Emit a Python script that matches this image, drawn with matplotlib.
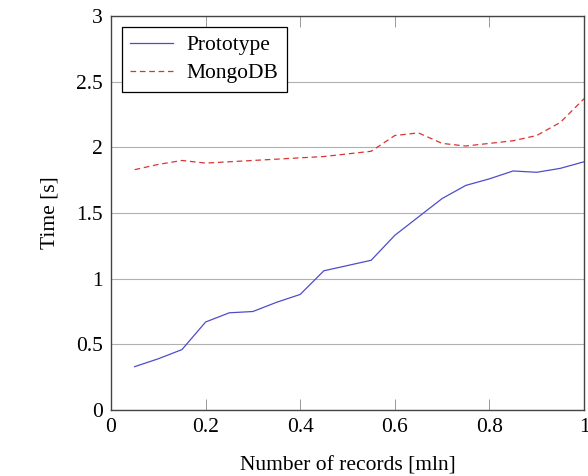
import matplotlib
matplotlib.use("Agg")
import matplotlib.pyplot as plt

records = [0.05, 0.10, 0.15, 0.20, 0.25, 0.30, 0.35, 0.40, 0.45, 0.50,
           0.55, 0.60, 0.65, 0.70, 0.75, 0.80, 0.85, 0.90, 0.95, 1.00]
prototype = [0.33, 0.39, 0.46, 0.67, 0.74, 0.75, 0.82, 0.88, 1.06, 1.10,
             1.14, 1.33, 1.47, 1.61, 1.71, 1.76, 1.82, 1.81, 1.84, 1.89]
mongodb = [1.83, 1.87, 1.90, 1.88, 1.89, 1.90, 1.91, 1.92, 1.93, 1.95,
           1.97, 2.09, 2.11, 2.03, 2.01, 2.03, 2.05, 2.09, 2.19, 2.37]

plt.rcParams['font.family'] = ['Liberation Serif', 'DejaVu Serif']

fig = plt.figure(figsize=(5.88, 4.76), dpi=100)
ax = fig.add_axes([111/588, 1 - 410/476, 473/588, 394/476])

ax.plot(records, prototype, color=(0.3, 0.3, 0.8), lw=0.9, label='Prototype')
ax.plot(records, mongodb, color=(0.85, 0.2, 0.2), lw=0.9, ls=(0, (4.5, 3)), label='MongoDB')

ax.set_xlim(0, 1)
ax.set_ylim(0, 3)
ax.set_xticks([0, 0.2, 0.4, 0.6, 0.8, 1])
ax.set_xticklabels(['0', '0.2', '0.4', '0.6', '0.8', '1'])
ax.set_yticks([0, 0.5, 1, 1.5, 2, 2.5, 3])
ax.set_yticklabels(['0', '0.5', '1', '1.5', '2', '2.5', '3'])
ax.grid(axis='y', color='#b0b0b0', lw=0.8)
ax.tick_params(axis='x', direction='in', top=True, length=8, width=0.6, color='#888888', labelsize=15.5, pad=6)
ax.tick_params(axis='y', length=0, labelsize=15.5, pad=6)
for s in ax.spines.values():
    s.set_color('#444444')
    s.set_linewidth(1.0)

ax.set_xlabel('Number of records [mln]', fontsize=15.5, labelpad=14)
ax.set_ylabel('Time [s]', fontsize=15.5, labelpad=12)

leg = ax.legend(loc='upper left', fontsize=15.5, fancybox=False, framealpha=1,
                edgecolor='black', borderaxespad=0.5, handlelength=2.0,
                borderpad=0.4, labelspacing=0.35, handletextpad=0.6)
leg.get_frame().set_linewidth(0.9)

fig.savefig('out.png', dpi=100)
